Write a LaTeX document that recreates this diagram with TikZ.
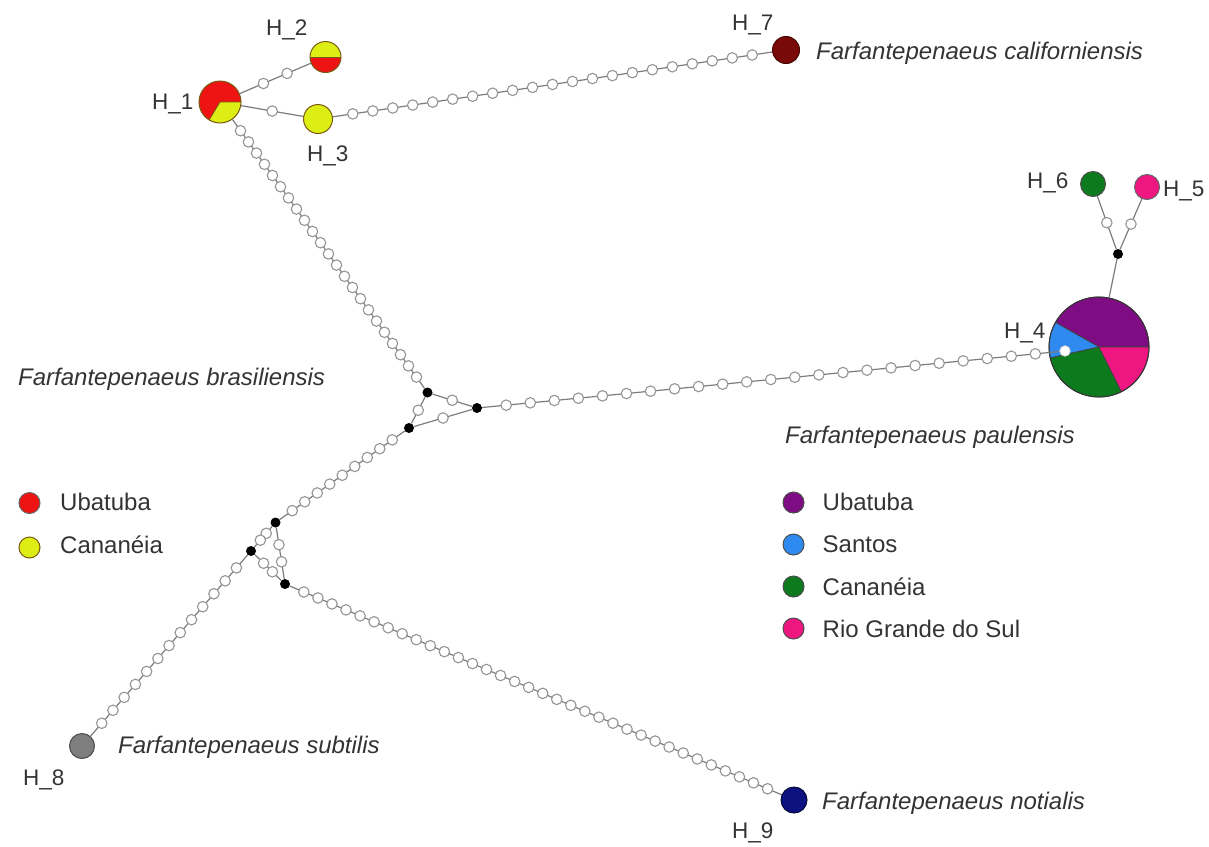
\documentclass[tikz,border=0pt]{standalone}
\usepackage{fontspec}
\setmainfont{Liberation Sans}
\usetikzlibrary{calc}
\pgfdeclarelayer{bg}
\pgfdeclarelayer{edges}
\pgfsetlayers{bg,edges,main}
\definecolor{txt}{HTML}{333333}
\definecolor{edgegray}{HTML}{7C7C7C}
\definecolor{mutgray}{HTML}{959595}
\definecolor{cred}{HTML}{EE1414}
\definecolor{cyel}{HTML}{DDEE14}
\definecolor{cpieD}{HTML}{7A5A10}
\definecolor{cdred}{HTML}{7A0A0A}
\definecolor{cdredD}{HTML}{4A0505}
\definecolor{cpurple}{HTML}{7E0C82}
\definecolor{cblue}{HTML}{2F8AF0}
\definecolor{cgreen}{HTML}{0E7A1E}
\definecolor{cpink}{HTML}{EE1681}
\definecolor{cgray}{HTML}{7E7E7E}
\definecolor{cgrayD}{HTML}{4A4A4A}
\definecolor{cnavy}{HTML}{0D1280}
\definecolor{cnavyD}{HTML}{05083A}
\newcommand\mychain[4]{%
  \draw[edge] (#1) -- (#2);
  \foreach \i in {1,...,#3}{%
    \pgfmathsetmacro\mypos{\i/(#3+1)}%
    \path (#1) -- (#2) node[mut,pos=\mypos] (#4-\i) {};}}
\begin{document}
\begin{tikzpicture}[x=1pt,y=-1pt,
  hap/.style={circle,inner sep=0pt,line width=1pt},
  mut/.style={circle,inner sep=0pt,minimum size=10.5pt,fill=white,draw=mutgray,line width=1.1pt},
  med/.style={circle,inner sep=0pt,minimum size=10pt,fill=black},
  edge/.style={draw=edgegray,line width=1.2pt},
  lab/.style={font=\fontsize{22.5}{27}\selectfont, text=txt, inner sep=0pt, anchor=base west},
  sp/.style={lab, font=\fontsize{24}{28}\selectfont\itshape},
  leglab/.style={lab, font=\fontsize{24}{28}\selectfont},
  leg/.style={circle,inner sep=0pt,minimum size=21pt,line width=1pt},
]
\useasboundingbox (0,0) rectangle (1209,846);

% haplotypes and median vectors
\node[hap,minimum size=42pt] (H1) at (220,102) {};
\node[hap,minimum size=31pt] (H2) at (325.5,57) {};
\node[hap,minimum size=29pt,fill=cyel,draw=cpieD] (H3) at (318,119) {};
\node[hap,minimum size=27pt,fill=cdred,draw=cdredD] (H7) at (786,50) {};
\node[hap,minimum size=100pt] (H4) at (1099,347) {};
\node[circle,inner sep=0pt,minimum size=10.5pt,fill=white,draw=white!85!black,line width=0.8pt] (H4in) at (1065,351) {};
\node[hap,minimum size=25pt,fill=cgreen,draw=black!70] (H6) at (1093,184) {};
\node[hap,minimum size=25pt,fill=cpink,draw=black!60] (H5) at (1147,187) {};
\node[med] (K) at (1118,254) {};
\node[med] (A) at (427.5,392.5) {};
\node[med] (B) at (477,408) {};
\node[med] (C) at (409,428) {};
\node[med] (D) at (275.5,522.5) {};
\node[med] (E) at (251,551) {};
\node[med] (F) at (285,584) {};
\node[hap,minimum size=25pt,fill=cgray,draw=cgrayD] (H8) at (82,746) {};
\node[hap,minimum size=26pt,fill=cnavy,draw=cnavyD] (H9) at (794,800) {};

% pie charts
\begin{pgfonlayer}{bg}
  \fill[cred] (H1.center) -- ++(0:21pt) arc[start angle=0,end angle=239,radius=21pt] -- cycle;
  \fill[cyel] (H1.center) -- ++(239:21pt) arc[start angle=239,end angle=360,radius=21pt] -- cycle;
  \draw[cpieD,line width=0.8pt] (H1.center) ++(239:21pt) -- (H1.center) -- ++(0:21pt);
  \draw[cpieD,line width=1pt] (H1.center) circle[radius=21pt];
  \fill[cyel] (H2.center) -- ++(0:15.5pt) arc[start angle=0,end angle=180,radius=15.5pt] -- cycle;
  \fill[cred] (H2.center) -- ++(180:15.5pt) arc[start angle=180,end angle=360,radius=15.5pt] -- cycle;
  \draw[cpieD,line width=0.8pt] (H2.center) ++(180:15.5pt) -- ++(0:31pt);
  \draw[cpieD,line width=1pt] (H2.center) circle[radius=15.5pt];
  \begin{scope}[draw=black!75,line width=0.7pt]
  \filldraw[fill=cpurple] (H4.center) -- ++(0:50pt) arc[start angle=0,end angle=150.5,radius=50pt] -- cycle;
  \filldraw[fill=cblue] (H4.center) -- ++(150.5:50pt) arc[start angle=150.5,end angle=192.7,radius=50pt] -- cycle;
  \filldraw[fill=cgreen] (H4.center) -- ++(192.7:50pt) arc[start angle=192.7,end angle=296.6,radius=50pt] -- cycle;
  \filldraw[fill=cpink] (H4.center) -- ++(296.6:50pt) arc[start angle=296.6,end angle=360,radius=50pt] -- cycle;
  \end{scope}
  \draw[black!80,line width=1pt] (H4.center) circle[radius=50pt];
\end{pgfonlayer}

% connectors with mutation steps
\begin{pgfonlayer}{edges}
  \mychain{H1}{H2}{2}{m12}
  \mychain{H1}{H3}{1}{m13}
  \mychain{H3}{H7}{21}{m37}
  \mychain{H1}{A}{23}{m1a}
  \mychain{A}{B}{1}{mab}
  \mychain{A}{C}{1}{mac}
  \mychain{C}{B}{1}{mcb}
  \mychain{B}{H4in}{23}{mb4}
  \draw[edge] (K) -- (H4);
  \mychain{K}{H6}{1}{mk6}
  \mychain{K}{H5}{1}{mk5}
  \mychain{C}{D}{9}{mcd}
  \mychain{D}{E}{2}{mde}
  \mychain{D}{F}{2}{mdf}
  \mychain{E}{F}{2}{mef}
  \mychain{E}{H8}{13}{me8}
  \mychain{F}{H9}{34}{mf9}
\end{pgfonlayer}

% haplotype labels
\node[lab] (tH1) at (152,109) {H\_1};
\node[lab] (tH2) at (266,35) {H\_2};
\node[lab] (tH3) at (307,161) {H\_3};
\node[lab] (tH7) at (732,30) {H\_7};
\node[lab] (tH6) at (1027,188) {H\_6};
\node[lab] (tH5) at (1163,196) {H\_5};
\node[lab] (tH4) at (1004,338) {H\_4};
\node[lab] (tH8) at (23,785) {H\_8};
\node[lab] (tH9) at (732,838) {H\_9};

% species names
\node[sp] (sCal) at (816,59) {Farfantepenaeus californiensis};
\node[sp] (sBra) at (18,385) {Farfantepenaeus brasiliensis};
\node[sp] (sPau) at (785,443) {Farfantepenaeus paulensis};
\node[sp] (sSub) at (118,753) {Farfantepenaeus subtilis};
\node[sp] (sNot) at (822,809) {Farfantepenaeus notialis};

% legend brasiliensis
\node[leg,fill=cred,draw=black!60] (lb1) at (29.5,503) {};
\node[leglab] (lbt1) at (60,510.5) {Ubatuba};
\node[leg,fill=cyel,draw=cpieD] (lb2) at (29.5,547.5) {};
\node[leglab] (lbt2) at (60,553) {Cananéia};

% legend paulensis
\node[leg,fill=cpurple,draw=black!70] (lp1) at (793.5,502.5) {};
\node[leglab] (lpt1) at (822.5,510.7) {Ubatuba};
\node[leg,fill=cblue,draw=black!70] (lp2) at (793.5,544.5) {};
\node[leglab] (lpt2) at (822.5,552.3) {Santos};
\node[leg,fill=cgreen,draw=black!70] (lp3) at (793.5,586.5) {};
\node[leglab] (lpt3) at (822.5,595) {Cananéia};
\node[leg,fill=cpink,draw=black!70] (lp4) at (793.5,628.5) {};
\node[leglab] (lpt4) at (822.5,637.3) {Rio Grande do Sul};
\end{tikzpicture}
\end{document}
